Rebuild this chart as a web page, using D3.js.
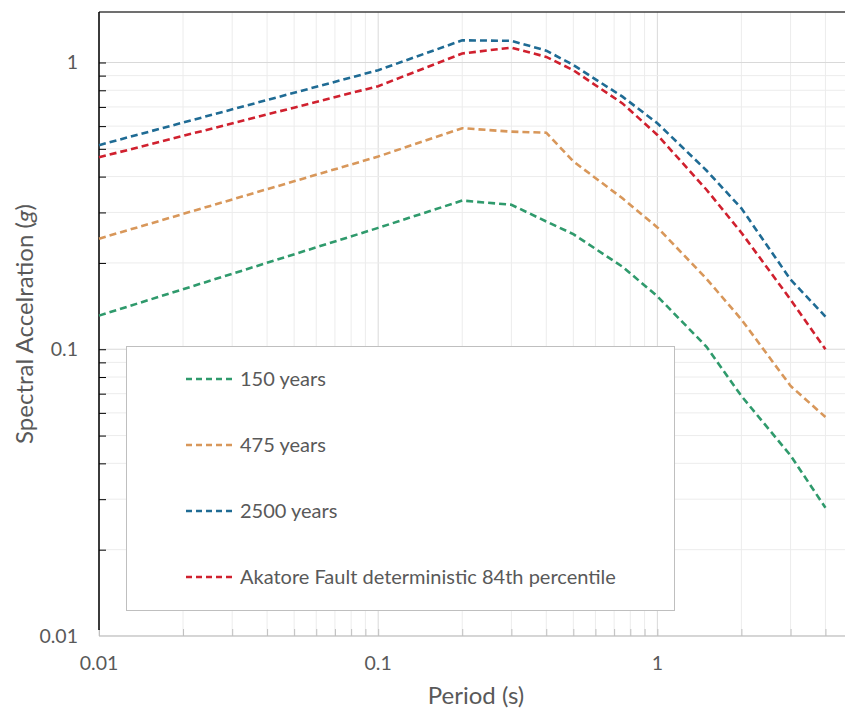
<!DOCTYPE html>
<html>
<head>
<meta charset="utf-8">
<script src="https://cdn.jsdelivr.net/npm/d3@7"></script>
<style>
    body { margin:0; background:#fff; }
    svg { display:block; font-family:Lato, "Open Sans", sans-serif; }
</style>
</head>
<body>
<svg id="chart" width="845" height="709"></svg>
<script>
// periods (s)
const periods = [0.01, 0.1, 0.2, 0.3, 0.4, 0.5, 0.75, 1, 1.5, 2, 3, 4];

// spectral acceleration (g) per series
const years150  = [0.131, 0.265, 0.33, 0.319, 0.279, 0.252, 0.194, 0.153, 0.102, 0.0687, 0.0426, 0.028];
const years475  = [0.243, 0.47, 0.59, 0.574, 0.569, 0.452, 0.336, 0.266, 0.176, 0.127, 0.0745, 0.058];
const years2500 = [0.515, 0.94, 1.195, 1.19, 1.10, 0.98, 0.76, 0.614, 0.42, 0.31, 0.175, 0.13];
const akatore   = [0.467, 0.827, 1.075, 1.127, 1.046, 0.94, 0.72, 0.559, 0.36, 0.255, 0.149, 0.10];

const seriesNames = ["150 years", "475 years", "2500 years", "Akatore Fault deterministic 84th percentile"];
const seriesValues = [years150, years475, years2500, akatore];
const seriesColours = ["#2f9a6c", "#d8975a", "#1f6b94", "#d0202e"];

const xTickLabels = ["0.01", "0.1", "1"];
const yTickLabels = ["0.01", "0.1", "1"];

const svg = d3.select("#chart");
const margin = { top:12, left:99, bottom:73 };
const height = 709;

const x = d3.scaleLog().domain([0.01, 5]).range([margin.left, 852.5]);
const y = d3.scaleLog().domain([0.01, 1.5]).range([height - margin.bottom, margin.top]);

const textGrey = "#595959";

// minor ticks per decade
const minorX = [];
[0.01, 0.1, 1].forEach(d => { for(let k = 1; k < 10; k++){ if(d * k <= 5) minorX.push(d * k); } });
const minorY = [];
[0.01, 0.1, 1].forEach(d => { for(let k = 1; k < 10; k++){ if(d * k <= 1.5) minorY.push(d * k); } });
const majorX = xTickLabels.map(Number);
const majorY = yTickLabels.map(Number);

//gridlines
const gridG = svg.append("g").attr("class", "grid");
gridG.selectAll("line.vx")
    .data(minorX)
    .join("line")
        .attr("class", "vx")
        .attr("x1", d => x(d)).attr("x2", d => x(d))
        .attr("y1", y(1.5)).attr("y2", y(0.01))
        .attr("stroke", d => majorX.includes(d) ? "#d9d9d9" : "#ececec")
        .attr("stroke-width", 1);

gridG.selectAll("line.hy")
    .data(minorY)
    .join("line")
        .attr("class", "hy")
        .attr("x1", x(0.01)).attr("x2", 845)
        .attr("y1", d => y(d)).attr("y2", d => y(d))
        .attr("stroke", d => majorY.includes(d) ? "#d9d9d9" : "#ececec")
        .attr("stroke-width", 1);

// top border
svg.append("line")
    .attr("x1", x(0.01)).attr("x2", 845)
    .attr("y1", y(1.5)).attr("y2", y(1.5))
    .attr("stroke", "#404040")
    .attr("stroke-width", 1.5);

// x axis (grey, ticks inward)
const xAxisG = svg.append("g")
    .attr("transform", `translate(0,${y(0.01)})`)
    .call(d3.axisTop(x).tickValues(minorX).tickSize(7).tickFormat(""));
xAxisG.select(".domain").attr("stroke", "#bfbfbf").attr("d", `M${x(0.01)},0H845`);
xAxisG.selectAll(".tick line").attr("stroke", "#bfbfbf");

svg.append("g").selectAll("text")
    .data(xTickLabels)
    .join("text")
        .attr("x", d => x(+d))
        .attr("y", y(0.01) + 34)
        .attr("text-anchor", "middle")
        .attr("fill", textGrey)
        .attr("font-size", 19.5)
        .text(d => d);

// y axis (black, ticks inward)
const yAxisG = svg.append("g")
    .attr("transform", `translate(${x(0.01)},0)`)
    .call(d3.axisRight(y).tickValues(minorY.filter(d => d > 0.01)).tickSize(7).tickFormat(""));
yAxisG.select(".domain").attr("stroke", "#000").attr("stroke-width", 1.5).attr("d", `M0,${y(1.5)}V${y(0.01) - 6}`);
yAxisG.selectAll(".tick line").attr("stroke", "#000");

svg.append("g").selectAll("text")
    .data(yTickLabels)
    .join("text")
        .attr("x", 78)
        .attr("y", d => y(+d) + 7)
        .attr("text-anchor", "end")
        .attr("fill", textGrey)
        .attr("font-size", 19.5)
        .text(d => d);

// axis titles
svg.append("text")
    .attr("x", 476)
    .attr("y", 704)
    .attr("text-anchor", "middle")
    .attr("fill", textGrey)
    .attr("font-size", 24)
    .text("Period (s)");

const yTitle = svg.append("text")
    .attr("transform", "translate(33,324) rotate(-90)")
    .attr("text-anchor", "middle")
    .attr("fill", textGrey)
    .attr("font-size", 24);
yTitle.append("tspan").text("Spectral Accelration (");
yTitle.append("tspan").attr("font-style", "italic").text("g");
yTitle.append("tspan").text(")");

// series lines
const line = d3.line()
    .x(d => x(d[0]))
    .y(d => y(d[1]));

svg.append("g").selectAll("path.series")
    .data(seriesValues)
    .join("path")
        .attr("class", "series")
        .attr("fill", "none")
        .attr("stroke", (d,i) => seriesColours[i])
        .attr("stroke-width", 2.6)
        .attr("stroke-dasharray", "7,4")
        .attr("d", d => line(periods.map((p,i) => [p, d[i]])));

//legend
const legendG = svg.append("g").attr("class", "legend");
legendG.append("rect")
    .attr("x", 126.5).attr("y", 346.5)
    .attr("width", 548).attr("height", 264)
    .attr("fill", "#fff")
    .attr("stroke", "#bfbfbf")
    .attr("stroke-width", 1);

const itemG = legendG.selectAll("g.item")
    .data(seriesNames)
    .join("g")
        .attr("class", "item")
        .attr("transform", (d,i) => `translate(186,${379 + i * 66})`);

itemG.append("line")
    .attr("x1", 0).attr("x2", 50)
    .attr("stroke", (d,i) => seriesColours[i])
    .attr("stroke-width", 2.6)
    .attr("stroke-dasharray", "6,4");

itemG.append("text")
    .attr("x", 54)
    .attr("y", 7)
    .attr("fill", textGrey)
    .attr("font-size", 20)
    .text(d => d);
</script>
</body>
</html>
